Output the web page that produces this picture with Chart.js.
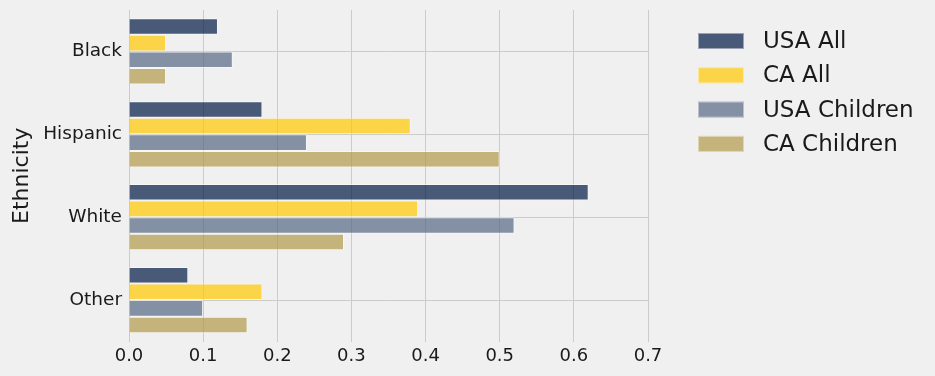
<!DOCTYPE html>
<html>
<head>
<meta charset="utf-8">
<script src="https://cdn.jsdelivr.net/npm/chart.js@4/dist/chart.umd.min.js"></script>
<style>
  html, body { margin: 0; padding: 0; background: #f0f0f0; }
  #wrap { width: 935px; height: 376px; }
</style>
</head>
<body>
<div id="wrap"><canvas id="chart" width="935" height="376"></canvas></div>
<script>
// data
const ethnicities = ['Black', 'Hispanic', 'White', 'Other'];
const usaAll = [0.12, 0.18, 0.62, 0.08];
const caAll = [0.05, 0.38, 0.39, 0.18];
const usaChildren = [0.14, 0.24, 0.52, 0.10];
const caChildren = [0.05, 0.50, 0.29, 0.16];
const xTicks = [0, 0.1, 0.2, 0.3, 0.4, 0.5, 0.6, 0.7];

const font = 'DejaVu Sans';
const textColor = '#1a1a1a';

const makeSet = (label, data, color) => ({
  label,
  data,
  backgroundColor: color,
  borderColor: 'rgba(255,255,255,0.45)',
  borderWidth: 1,
  categoryPercentage: 0.8,
  barPercentage: 1.0,
});

// legend drawn off to the right, matplotlib style (outside the axes)
const sideLegend = {
  id: 'sideLegend',
  afterDraw(chart) {
    const ctx = chart.ctx;
    ctx.save();
    ctx.font = '23px "' + font + '"';
    ctx.textBaseline = 'middle';
    chart.data.datasets.forEach((ds, i) => {
      const y = 41 + i * 34.3;
      ctx.fillStyle = ds.backgroundColor;
      ctx.fillRect(698, y - 8, 46, 16);
      ctx.strokeStyle = ds.borderColor;
      ctx.lineWidth = 1;
      ctx.strokeRect(698.5, y - 7.5, 45, 15);
      ctx.fillStyle = textColor;
      ctx.fillText(ds.label, 763, y + 1);
    });
    ctx.restore();
  },
};

new Chart(document.getElementById('chart'), {
  type: 'bar',
  data: {
    labels: ethnicities,
    datasets: [
      makeSet('USA All', usaAll, 'rgba(0,26,69,0.7)'),
      makeSet('CA All', caAll, 'rgba(255,200,0,0.7)'),
      makeSet('USA Children', usaChildren, 'rgba(86,103,131,0.7)'),
      makeSet('CA Children', caChildren, 'rgba(177,154,74,0.7)'),
    ],
  },
  plugins: [sideLegend],
  options: {
    indexAxis: 'y',
    responsive: false,
    animation: false,
    layout: { padding: { top: 10, right: 287, bottom: 0, left: 0 } },
    scales: {
      x: {
        min: 0,
        max: 0.7,
        afterBuildTicks: (axis) => { axis.ticks = xTicks.map((v) => ({ value: v })); },
        afterFit: (axis) => { axis.height = 34.5; axis.paddingLeft = 0; },
        ticks: {
          callback: (v) => Number(v).toFixed(1),
          color: textColor,
          font: { family: font, size: 18 },
          padding: 4,
        },
        grid: { color: '#cbcbcb', lineWidth: 1, drawTicks: false },
        border: { display: false },
      },
      y: {
        afterFit: (axis) => { axis.width = 129; axis.paddingTop = 0; axis.paddingBottom = 0; },
        ticks: {
          color: textColor,
          font: { family: font, size: 18.5 },
          padding: 7,
        },
        grid: { color: '#cbcbcb', lineWidth: 1, offset: false, drawTicks: false },
        border: { display: false },
        title: {
          display: true,
          text: 'Ethnicity',
          color: textColor,
          font: { family: font, size: 22 },
          padding: { top: 9, bottom: 0 },
        },
      },
    },
    plugins: {
      legend: { display: false },
      tooltip: { enabled: false },
    },
  },
});
</script>
</body>
</html>
